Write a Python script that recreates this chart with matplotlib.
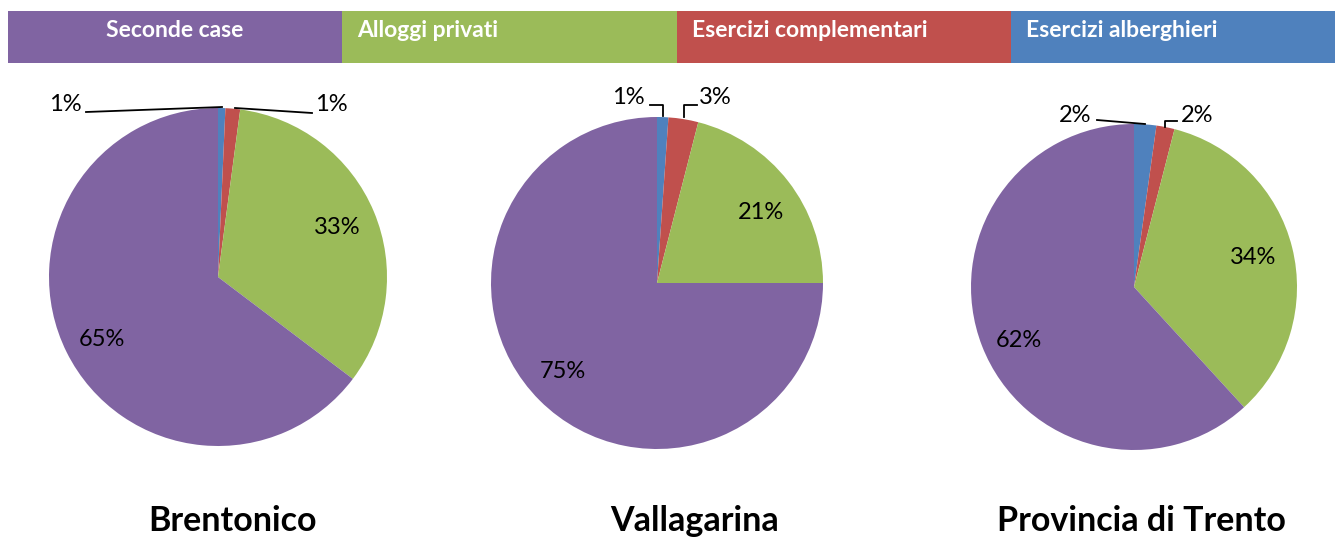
import matplotlib
matplotlib.use("Agg")
import matplotlib.pyplot as plt

categories = ["Seconde case", "Alloggi privati", "Esercizi complementari", "Esercizi alberghieri"]
colors = ["#8064A2", "#9BBB59", "#C0504D", "#4F81BD"]

regions = ["Brentonico", "Vallagarina", "Provincia di Trento"]
# values in legend order: seconde case, alloggi privati, complementari, alberghieri
brentonico = [64.7, 33.2, 1.4, 0.7]
vallagarina = [75.0, 21.0, 2.9, 1.1]
provincia = [61.8, 34.2, 1.8, 2.2]

W, H = 1335, 538
FONT = "Lato"

fig = plt.figure(figsize=(W / 100, H / 100), dpi=100)

# legend strip at the top
lax = fig.add_axes([8 / W, 1 - 63 / H, 1337 / W, 52 / H])
for i, (cat, col) in enumerate(zip(categories, colors)):
    lax.barh(0, 1, left=i, height=1, color=col, linewidth=0)
    if i == 0:
        lax.text(i + 0.5, 0.12, cat, ha="center", va="center", color="white",
                 fontsize=16.5, fontweight="bold", family=FONT)
    else:
        lax.text(i + 0.045, 0.12, cat, ha="left", va="center", color="white",
                 fontsize=16.5, fontweight="bold", family=FONT)
lax.set_xlim(0, 4)
lax.set_ylim(-0.5, 0.5)
lax.axis("off")

# pie geometry in pixels: centre x, centre y, radius, title x
layout = [(218, 277, 169, 233), (657, 283, 166, 695), (1134, 287, 163, 1141)]

# label layout in pixels, pie order (alberghieri, complementari, privati, seconde)
# each entry: text position, leader line (None for labels inside the pie)
label_layout = [
    [((65, 105), [(86, 112), (222, 107)]),
     ((331, 105), [(235, 108), (312, 113)]),
     ((337, 227), None),
     ((102, 339), None)],
    [((628, 98), [(650, 105), (663, 105), (663, 116)]),
     ((715, 98), [(684, 117), (684, 105), (697, 105)]),
     ((761, 213), None),
     ((563, 372), None)],
    [((1075, 115), [(1097, 120), (1145, 124)]),
     ((1197, 115), [(1165, 127), (1165, 121), (1177, 121)]),
     ((1253, 257), None),
     ((1019, 340), None)],
]

PAD = 1.35
for vals, name, (cx, cy, r, tx), labs in zip([brentonico, vallagarina, provincia],
                                             regions, layout, label_layout):
    side = 2 * r * PAD
    ax = fig.add_axes([(cx - side / 2) / W, 1 - (cy + side / 2) / H, side / W, side / H])

    def to_data(p):
        return ((p[0] - cx) / r, (cy - p[1]) / r)

    wedges, texts, autotexts = ax.pie(vals[::-1], colors=colors[::-1], startangle=90,
                                      counterclock=False, radius=1, autopct="%1.0f%%",
                                      pctdistance=0.75,
                                      wedgeprops=dict(linewidth=0),
                                      textprops=dict(fontsize=17, family=FONT, color="black"))
    for t, (tpos, line) in zip(autotexts, labs):
        t.set_position(to_data(tpos))
        if line is None:
            continue
        pts = [to_data(p) for p in line]
        ax.plot([p[0] for p in pts], [p[1] for p in pts], color="black", lw=1.3,
                clip_on=False)
    ax.set_xlim(-PAD, PAD)
    ax.set_ylim(-PAD, PAD)
    ax.axis("off")

    fig.text(tx / W, 1 - 521 / H, name, ha="center", va="center", fontsize=24.5,
             fontweight="bold", family=FONT)

fig.savefig("out.png", dpi=100)
